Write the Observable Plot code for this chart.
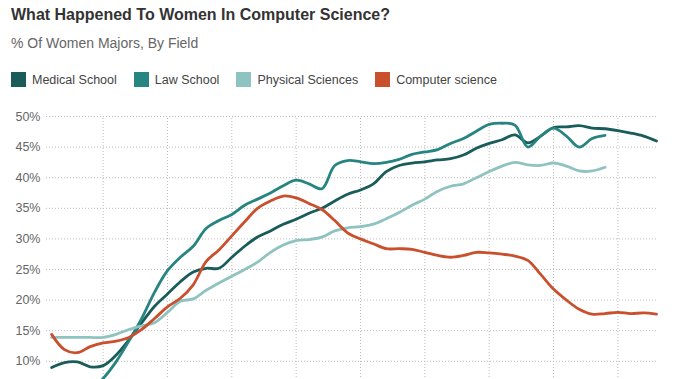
<!DOCTYPE html>
<html>
<head>
<meta charset="utf-8">
<script src="https://cdn.jsdelivr.net/npm/d3@7"></script>
<script src="https://cdn.jsdelivr.net/npm/@observablehq/plot@0.6"></script>
<style>
  html, body { margin: 0; padding: 0; background: #fff; overflow: hidden; width: 675px; height: 379px; }
  body { font-family: "Liberation Sans", Arial, sans-serif; position: relative; }
  #title { position: absolute; left: 11px; top: 6px; font-size: 16px; font-weight: bold; color: #333; white-space: nowrap; }
  #subtitle { position: absolute; left: 11px; top: 35px; font-size: 14px; color: #666; white-space: nowrap; }
  #legend { position: absolute; left: 11px; top: 72px; font-size: 12.5px; color: #444; white-space: nowrap; display: flex; }
  .item { display: flex; align-items: center; margin-right: 17px; }
  .sw { width: 15px; height: 15px; margin-right: 6px; }
  #chart { position: absolute; left: 0; top: 100px; }
</style>
</head>
<body>
<div id="title">What Happened To Women In Computer Science?</div>
<div id="subtitle">% Of Women Majors, By Field</div>
<div id="legend"></div>
<div id="chart"></div>
<script>
const seriesNames = ["Medical School", "Law School", "Physical Sciences", "Computer science"];
const seriesColors = ["#195c5a", "#268481", "#8fc3c1", "#c94f2d"];

const yearsFull = d3.range(1966, 2014);   // 1966..2013
const yearsShort = d3.range(1966, 2010);  // 1966..2009

const medical = [9.0, 9.8, 9.9, 9.1, 9.3, 11.0, 13.5, 16.3, 19.0, 21.0,
  23.0, 24.6, 25.2, 25.2, 27.0, 28.8, 30.3, 31.3, 32.4, 33.2,
  34.2, 35.0, 36.2, 37.3, 38.0, 39.0, 41.0, 42.0, 42.4, 42.6,
  42.9, 43.1, 43.7, 44.8, 45.6, 46.2, 47.0, 45.7, 46.8, 48.2,
  48.3, 48.5, 48.1, 48.0, 47.7, 47.3, 46.8, 46.0];

const law = [3.8, 4.0, 4.5, 5.5, 7.2, 9.9, 13.3, 17.0, 21.3, 24.8,
  27.0, 28.8, 31.7, 33.0, 34.0, 35.5, 36.5, 37.5, 38.7, 39.6,
  39.0, 38.2, 42.0, 42.8, 42.6, 42.3, 42.5, 43.0, 43.8, 44.2,
  44.6, 45.6, 46.4, 47.6, 48.7, 48.9, 48.6, 45.0, 46.8, 48.1,
  46.8, 45.0, 46.4, 46.9];

const physical = [13.9, 13.9, 13.9, 13.9, 13.9, 14.4, 15.2, 15.8, 16.3, 18.0,
  19.8, 20.2, 21.6, 22.8, 23.9, 25.0, 26.2, 27.8, 29.0, 29.7,
  29.9, 30.3, 31.3, 31.8, 32.0, 32.4, 33.3, 34.3, 35.5, 36.5,
  37.8, 38.6, 39.0, 40.0, 41.0, 41.9, 42.5, 42.1, 42.0, 42.4,
  41.9, 41.1, 41.1, 41.7];

const compsci = [14.4, 11.9, 11.4, 12.4, 13.0, 13.3, 13.9, 15.2, 17.0, 18.9,
  20.3, 22.5, 26.3, 28.2, 30.5, 32.8, 35.0, 36.2, 37.0, 36.7,
  35.8, 34.8, 33.0, 31.0, 30.0, 29.2, 28.4, 28.4, 28.3, 27.8,
  27.3, 27.0, 27.3, 27.8, 27.7, 27.5, 27.2, 26.5, 24.2, 21.8,
  20.0, 18.5, 17.7, 17.8, 18.0, 17.8, 17.9, 17.7];

const yGrid = [0, 5, 10, 15, 20, 25, 30, 35, 40, 45, 50];
const yTickLabels = [10, 15, 20, 25, 30, 35, 40, 45, 50];
const xGridYears = [1970, 1975, 1980, 1985, 1990, 1995, 2000, 2005, 2010];

// legend
const legend = document.getElementById("legend");
seriesNames.forEach((n, i) => {
  const it = document.createElement("div");
  it.className = "item";
  it.innerHTML = `<span class="sw" style="background:${seriesColors[i]}"></span><span>${n}</span>`;
  legend.appendChild(it);
});

const rows = [];
const add = (name, years, vals) => vals.forEach((v, i) => rows.push({series: name, year: years[i], value: v}));
add("Medical School", yearsFull, medical);
add("Law School", yearsShort, law);
add("Physical Sciences", yearsShort, physical);
add("Computer science", yearsFull, compsci);

const chart = Plot.plot({
  width: 675,
  height: 360,
  marginLeft: 46,
  marginRight: 19,
  marginTop: 16,
  marginBottom: 38,
  style: {fontFamily: "Liberation Sans, Arial, sans-serif", fontSize: "12px", color: "#666", background: "#fff"},
  x: {domain: [1965.6, 2013], axis: null},
  y: {domain: [0, 50], axis: null},
  color: {domain: seriesNames, range: seriesColors},
  marks: [
    Plot.gridY(yGrid, {stroke: "#bbb", strokeOpacity: 1, strokeDasharray: "1,2"}),
    Plot.gridX(xGridYears, {stroke: "#bbb", strokeOpacity: 1, strokeDasharray: "1,2", y1: 0, y2: 50}),
    Plot.axisY(yTickLabels, {tickSize: 0, tickPadding: 6, tickFormat: d => d + "%", fill: "#666", fontSize: 12.5, label: null}),
    Plot.line(rows, {x: "year", y: "value", z: "series", stroke: "series", strokeWidth: 2.8, curve: "catmull-rom"})
  ]
});
document.getElementById("chart").appendChild(chart);
</script>
</body>
</html>
